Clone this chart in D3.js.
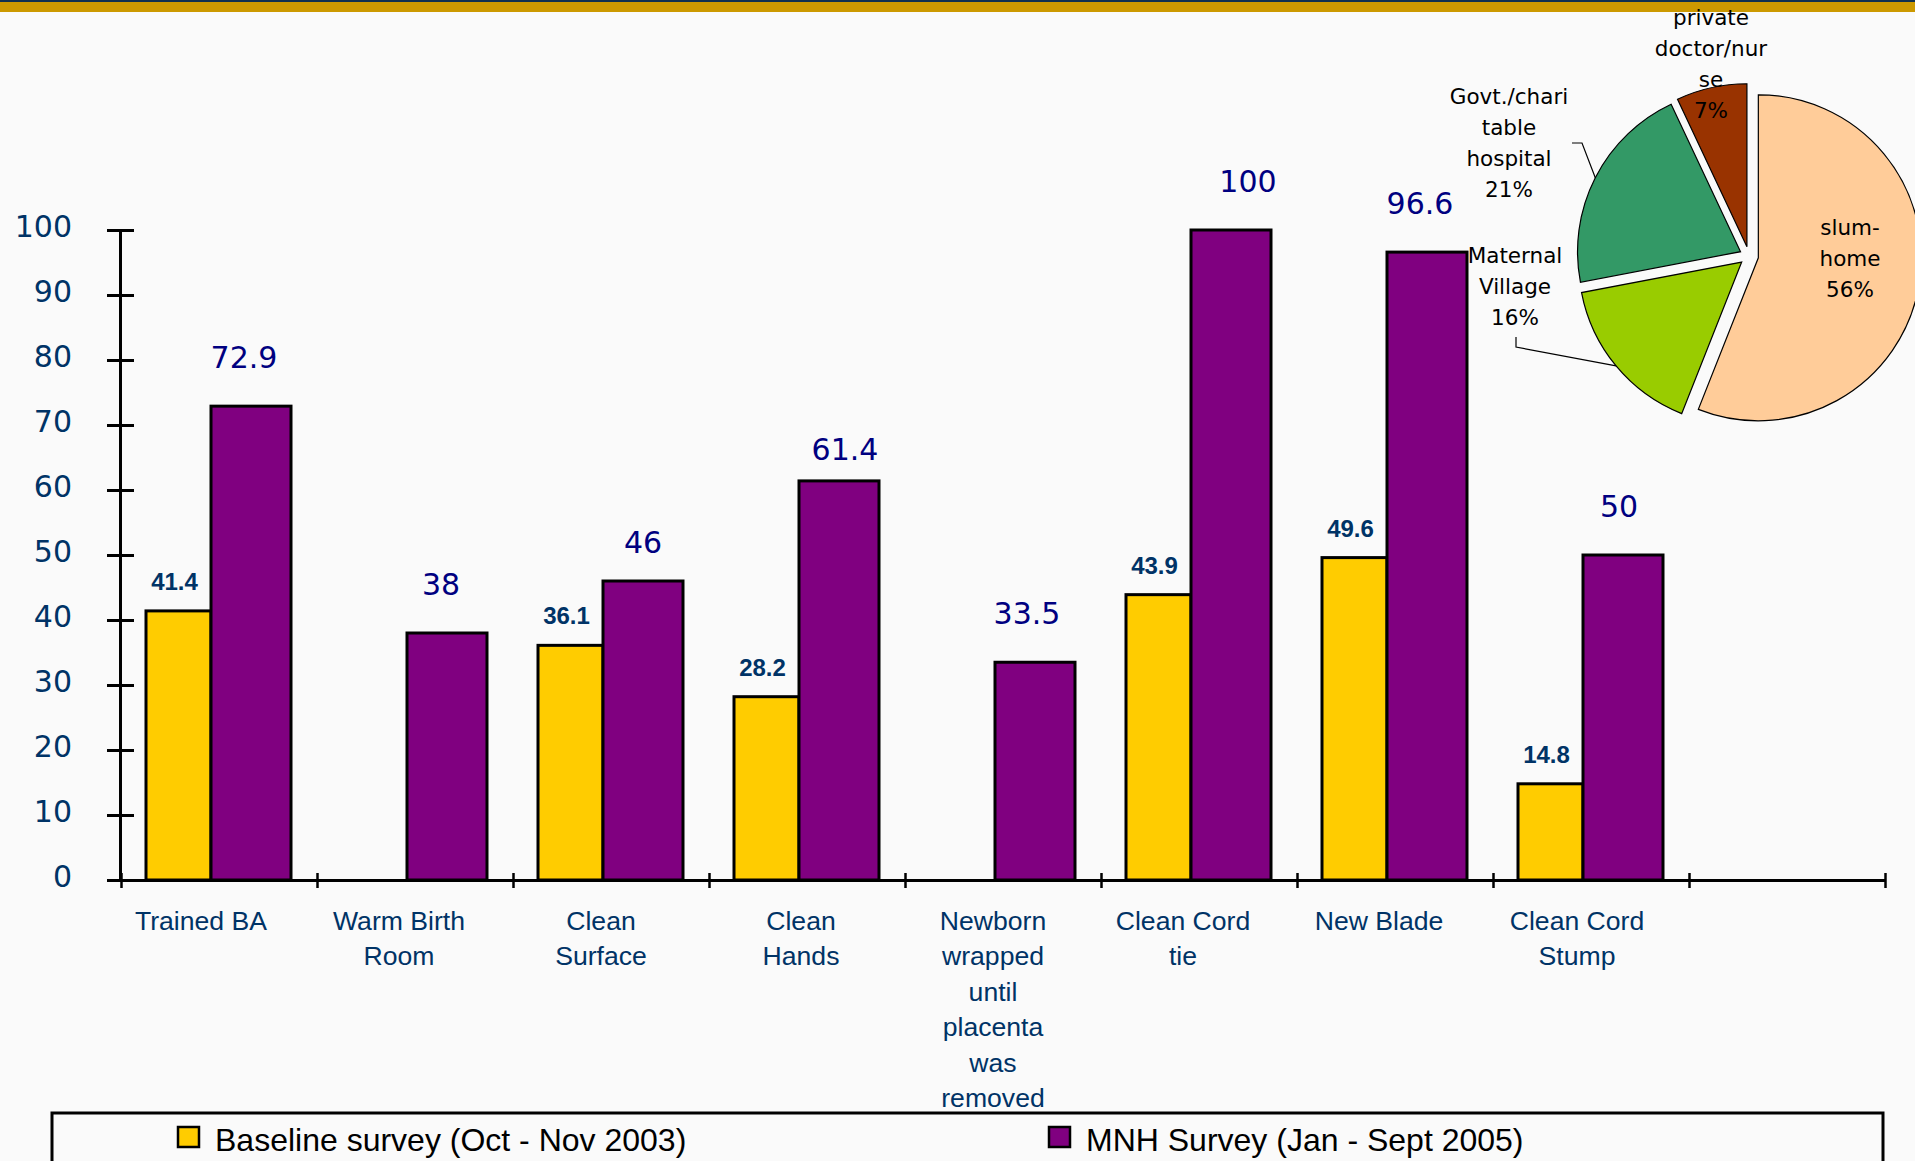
<!DOCTYPE html>
<html><head><meta charset="utf-8">
<script src="https://cdn.jsdelivr.net/npm/d3@7"></script>
<style>
html,body{margin:0;padding:0;background:#FAFAFA;overflow:hidden;}
svg{display:block;}
</style></head><body>
<svg id="chart" width="1915" height="1161"></svg>
<script>
// ---------- DATA ----------
const categories = ["Trained BA", "Warm Birth\nRoom", "Clean\nSurface", "Clean\nHands",
  "Newborn\nwrapped\nuntil\nplacenta\nwas\nremoved", "Clean Cord\ntie", "New Blade", "Clean Cord\nStump"];
const baselineValues = [41.4, null, 36.1, 28.2, null, 43.9, 49.6, 14.8];
const mnhValues = [72.9, 38, 46, 61.4, 33.5, 100, 96.6, 50];
const yTickValues = [0, 10, 20, 30, 40, 50, 60, 70, 80, 90, 100];
const seriesNames = ["Baseline survey (Oct - Nov 2003)", "MNH Survey (Jan - Sept 2005)"];
const pieCategories = ["slum-\nhome", "Maternal\nVillage", "Govt./chari\ntable\nhospital", "private\ndoctor/nur\nse"];
const pieValues = [56, 16, 21, 7];

// ---------- STYLE / LAYOUT ----------
const colBase = "#FFCC00", colMnh = "#800080";
const pieColors = ["#FFCC99", "#99CC00", "#339966", "#993300"];
const tickBlue = "#003366", valBlue = "#000080";
const catNudge = [-6, -4, 2, 6, 2, -4, -4, -2];
const mnhLabelNudge = [[-7, 0], [-6, 0], [0, 10], [6, 17], [-8, 0], [17, 0], [-7, 0], [-4, 0]];

const svg = d3.select("#chart");
svg.append("rect").attr("width", 1915).attr("height", 1161).attr("fill", "#FAFAFA");
svg.append("rect").attr("x", 0).attr("y", 0).attr("width", 1915).attr("height", 12).attr("fill", "#CC9900");
svg.append("rect").attr("x", 0).attr("y", 0).attr("width", 1915).attr("height", 2).attr("fill", "#0F3050");

// ---------- SCALES ----------
const nSlots = categories.length + 1; // one empty slot at the end, as in the original
const x = d3.scaleBand().domain(d3.range(nSlots)).range([121, 1885]).paddingInner(0).paddingOuter(0);
const xEdge = d3.scaleLinear().domain([0, nSlots]).range([121, 1885]);
const y = d3.scaleLinear().domain([0, 100]).range([880, 230]);
const baseOff = 25, baseW = 65, mnhOff = 90, mnhW = 80;

// ---------- BARS ----------
const g = svg.append("g");
g.selectAll("rect.base").data(baselineValues.map((v, i) => ({v, i})).filter(d => d.v != null))
  .join("rect").attr("class", "base")
  .attr("x", d => x(d.i) + baseOff).attr("width", baseW)
  .attr("y", d => y(d.v)).attr("height", d => y(0) - y(d.v))
  .attr("fill", colBase).attr("stroke", "#000").attr("stroke-width", 3);
g.selectAll("rect.mnh").data(mnhValues.map((v, i) => ({v, i})))
  .join("rect").attr("class", "mnh")
  .attr("x", d => x(d.i) + mnhOff).attr("width", mnhW)
  .attr("y", d => y(d.v)).attr("height", d => y(0) - y(d.v))
  .attr("fill", colMnh).attr("stroke", "#000").attr("stroke-width", 3);

// ---------- AXES ----------
const yAxis = svg.append("g").attr("transform", "translate(120,0)")
  .call(d3.axisLeft(y).tickValues(yTickValues).tickSizeOuter(0).tickFormat(d3.format("d")));
yAxis.select(".domain").attr("stroke", "#000").attr("stroke-width", 3);
yAxis.selectAll(".tick line").attr("x1", -13).attr("x2", 14).attr("stroke", "#000").attr("stroke-width", 3);
yAxis.selectAll(".tick text").attr("x", -48).attr("dy", null).attr("y", 6)
  .attr("fill", tickBlue).style("font-family", "'DejaVu Sans', Verdana, sans-serif").style("font-size", "30px");

const xAxis = svg.append("g").attr("transform", "translate(0,880)")
  .call(d3.axisBottom(xEdge).tickValues(d3.range(nSlots + 1)).tickSizeOuter(0).tickFormat(""));
xAxis.select(".domain").attr("stroke", "#000").attr("stroke-width", 3);
xAxis.selectAll(".tick line").attr("y1", -7).attr("y2", 8).attr("stroke", "#000").attr("stroke-width", 2.5);

// category labels
const catG = svg.append("g").style("font-family", "'Liberation Sans', Arial, sans-serif")
  .style("font-size", "26.6px").attr("fill", tickBlue).attr("text-anchor", "middle");
categories.forEach((c, i) => {
  const cx = x(i) + x.bandwidth() / 2 - 12 + catNudge[i];
  const t = catG.append("text").attr("x", cx).attr("y", 930);
  c.split("\n").forEach((line, k) => {
    t.append("tspan").attr("x", cx).attr("dy", k === 0 ? 0 : 35.4).text(line);
  });
});

// value labels
svg.append("g").selectAll("text").data(mnhValues.map((v, i) => ({v, i})))
  .join("text").attr("x", d => x(d.i) + mnhOff + mnhW / 2 + mnhLabelNudge[d.i][0])
  .attr("y", d => y(d.v) - 38 + mnhLabelNudge[d.i][1])
  .attr("text-anchor", "middle").attr("fill", valBlue)
  .style("font-family", "'DejaVu Sans', Verdana, sans-serif").style("font-size", "30px")
  .text(d => d.v);
svg.append("g").selectAll("text").data(baselineValues.map((v, i) => ({v, i})).filter(d => d.v != null))
  .join("text").attr("x", d => x(d.i) + baseOff + baseW / 2 - 4).attr("y", d => y(d.v) - 21)
  .attr("text-anchor", "middle").attr("fill", tickBlue)
  .style("font-family", "'Liberation Sans', Arial, sans-serif").style("font-size", "24px").style("font-weight", "bold")
  .text(d => d3.format(".1f")(d.v));

// ---------- PIE ----------
const pc = [1749, 256], pr = 163, explode = 9.5;
const pie = d3.pie().sort(null).value(d => d)(pieValues);
const arc = d3.arc().innerRadius(0).outerRadius(pr);
const pieG = svg.append("g").attr("transform", `translate(${pc[0]},${pc[1]})`);
const offs = pie.map(p => {
  const a = (p.startAngle + p.endAngle) / 2;
  return [Math.sin(a) * explode, -Math.cos(a) * explode];
});
pieG.selectAll("path").data(pie).join("path")
  .attr("transform", (d, i) => `translate(${offs[i][0]},${offs[i][1]})`)
  .attr("d", arc).attr("fill", (d, i) => pieColors[i]).attr("stroke", "#000").attr("stroke-width", 1.2);

// leader lines (Maternal Village, Govt hospital)
function edgePoint(i) {
  const a = (pie[i].startAngle + pie[i].endAngle) / 2;
  return [pc[0] + offs[i][0] + Math.sin(a) * pr, pc[1] + offs[i][1] - Math.cos(a) * pr];
}
const ep1 = edgePoint(1), ep2 = edgePoint(2);
svg.append("path").attr("d", `M1516,337 L1516,347 L${ep1[0]},${ep1[1]}`).attr("fill", "none").attr("stroke", "#000").attr("stroke-width", 1.2);
svg.append("path").attr("d", `M1572,143 L1582,143 L${ep2[0]},${ep2[1]}`).attr("fill", "none").attr("stroke", "#000").attr("stroke-width", 1.2);

const pieLabelPos = [[1850, 227], [1515, 255], [1509, 96], [1711, 17]];
const plG = svg.append("g").style("font-family", "'DejaVu Sans', Verdana, sans-serif")
  .style("font-size", "21.5px").attr("fill", "#000").attr("text-anchor", "middle");
pieCategories.forEach((c, i) => {
  const lines = c.split("\n").concat([pieValues[i] + "%"]);
  const px = pieLabelPos[i][0], py = pieLabelPos[i][1] + 8;
  const t = plG.append("text").attr("x", px).attr("y", py);
  lines.forEach((l, k) => t.append("tspan").attr("x", px).attr("dy", k === 0 ? 0 : 31).text(l));
});

// ---------- LEGEND ----------
svg.append("rect").attr("x", 52).attr("y", 1113).attr("width", 1831).attr("height", 120)
  .attr("fill", "#FAFAFA").attr("stroke", "#000").attr("stroke-width", 3);
const legX = [178, 1049];
seriesNames.forEach((s, i) => {
  svg.append("rect").attr("x", legX[i]).attr("y", 1127).attr("width", 21).attr("height", 20)
    .attr("fill", i === 0 ? colBase : colMnh).attr("stroke", "#000").attr("stroke-width", 2.5);
  svg.append("text").attr("x", legX[i] + 37).attr("y", 1151)
    .style("font-family", "'Liberation Sans', Arial, sans-serif").style("font-size", "32px")
    .attr("fill", "#000").text(s);
});
</script>
</body></html>
